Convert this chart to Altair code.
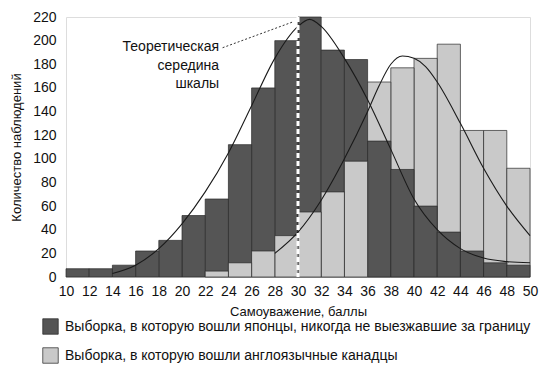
import altair as alt
import pandas as pd

# ---- data ----
bin_start = [10, 12, 14, 16, 18, 20, 22, 24, 26, 28, 30, 32, 34, 36, 38, 40, 42, 44, 46, 48]
japan = [7, 7, 10, 22, 31, 52, 66, 112, 160, 200, 220, 192, 184, 115, 91, 60, 38, 22, 12, 10]
canada = [0, 0, 0, 0, 0, 0, 5, 12, 22, 35, 55, 72, 98, 165, 177, 185, 197, 124, 124, 92]

jp_curve_x = [14, 16, 18, 20, 22, 24, 26, 28, 30, 31, 32, 34, 36, 38, 40, 42, 44, 46, 48, 50]
jp_curve_y = [3, 10, 24, 45, 72, 105, 145, 185, 212, 218, 212, 185, 150, 108, 66, 40, 24, 16, 13, 12]
ca_curve_x = [28, 30, 32, 34, 36, 37, 38, 39, 40, 41, 42, 44, 46, 48, 50]
ca_curve_y = [20, 38, 65, 100, 140, 162, 180, 187, 185, 178, 165, 130, 92, 60, 35]

x_ticks = list(range(10, 51, 2))
y_ticks = list(range(0, 221, 20))

jp_label = "Выборка, в которую вошли японцы, никогда не выезжавшие за границу"
ca_label = "Выборка, в которую вошли англоязычные канадцы"

note_lines = ["Теоретическая", "середина", "шкалы"]
note_x = [23.2, 23.2, 23.2]
note_y = [195, 178.5, 163.5]
leader_x = [23.5, 29.6]
leader_y = [194, 216]
midpoint = 30

FONT = "Liberation Sans"

rows = []
for s, j, c in zip(bin_start, japan, canada):
    rows.append({"start": s, "end": s + 2, "count": j, "group": jp_label})
    if c > 0:
        rows.append({"start": s, "end": s + 2, "count": c, "group": ca_label})
bars_df = pd.DataFrame(rows)

curves_df = pd.DataFrame(
    [{"x": x, "y": y, "curve": "jp"} for x, y in zip(jp_curve_x, jp_curve_y)]
    + [{"x": x, "y": y, "curve": "ca"} for x, y in zip(ca_curve_x, ca_curve_y)]
)
note_df = pd.DataFrame({"x": note_x, "y": note_y, "t": note_lines})
leader_df = pd.DataFrame({"x": leader_x, "y": leader_y})

xscale = alt.Scale(domain=[10, 50], nice=False, zero=False)
yscale = alt.Scale(domain=[0, 220], nice=False)

x_axis = alt.Axis(values=x_ticks, title="Самоуважение, баллы", ticks=False, domain=False,
                  grid=False, labelPadding=7, labelFontSize=14, titleFontSize=13,
                  titleFontWeight="normal", titlePadding=7, labelFlush=False,
                  labelOverlap=False, labelBound=False)
y_axis = alt.Axis(values=y_ticks, title="Количество наблюдений", ticks=False, domain=False,
                  grid=False, labelPadding=10, labelFontSize=14, titleFontSize=13,
                  titleFontWeight="normal", titlePadding=9, labelOverlap=False,
                  labelBound=False, labelFlush=False)

bars = alt.Chart(bars_df).mark_bar(stroke="#2a2a2a", strokeWidth=0.7).encode(
    x=alt.X("start:Q", scale=xscale, axis=x_axis),
    x2="end:Q",
    y=alt.Y("count:Q", scale=yscale, stack=None, axis=y_axis),
    y2=alt.datum(0),
    color=alt.Color("group:N",
                    scale=alt.Scale(domain=[jp_label, ca_label], range=["#555555", "#c9c9c9"]),
                    legend=alt.Legend(title=None, orient="none", legendX=-24, legendY=301,
                                      direction="vertical", symbolType="square", symbolSize=240,
                                      symbolStrokeColor="#222", symbolStrokeWidth=0.7,
                                      labelFontSize=14, labelLimit=600, rowPadding=10,
                                      labelOffset=6)),
    order=alt.Order("count:Q", sort="descending"),
)

curves = alt.Chart(curves_df).mark_line(color="#1a1a1a", strokeWidth=1.1, interpolate="monotone").encode(
    x=alt.X("x:Q", scale=xscale, axis=x_axis),
    y=alt.Y("y:Q", scale=yscale, axis=y_axis),
    detail="curve:N",
)

mid = alt.Chart(pd.DataFrame({"x": [midpoint]})).mark_rule(
    color="white", strokeWidth=3, strokeDash=[5, 3]
).encode(x=alt.X("x:Q", scale=xscale, axis=x_axis))

leader = alt.Chart(leader_df).mark_line(color="#333333", strokeWidth=1, strokeDash=[2, 2]).encode(
    x=alt.X("x:Q", scale=xscale, axis=x_axis), y=alt.Y("y:Q", scale=yscale, axis=y_axis)
)

notes = alt.Chart(note_df).mark_text(align="right", baseline="middle", fontSize=14, color="#111").encode(
    x=alt.X("x:Q", scale=xscale, axis=x_axis), y=alt.Y("y:Q", scale=yscale, axis=y_axis), text="t:N"
)

chart = alt.layer(bars, curves, mid, leader, notes).properties(
    width=464, height=260,
    padding={"left": 58, "top": 9, "right": 9, "bottom": 90},
    autosize="none",
).configure_view(fill="#ebebeb", stroke=None).configure(font=FONT).configure_axis(
    labelColor="#111", titleColor="#111", labelFont=FONT, titleFont=FONT, labelOverlap=False
).configure_legend(labelFont=FONT, labelColor="#111").configure_text(font=FONT)

chart.save("out.html", embed_options={"renderer": "svg", "actions": False})
